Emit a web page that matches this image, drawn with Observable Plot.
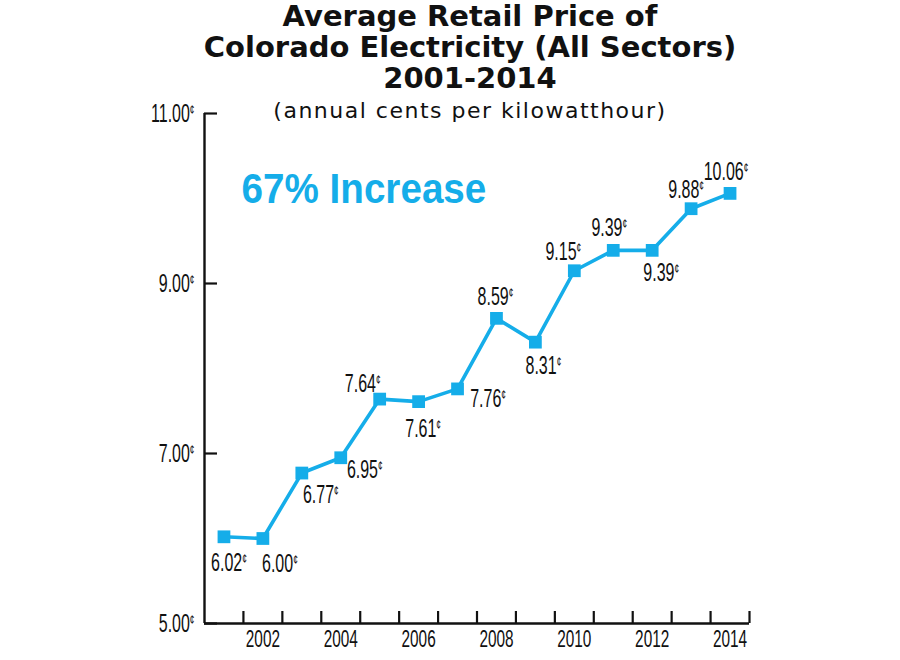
<!DOCTYPE html>
<html>
<head>
<meta charset="utf-8">
<script src="https://cdn.jsdelivr.net/npm/d3@7"></script>
<script src="https://cdn.jsdelivr.net/npm/@observablehq/plot@0.6"></script>
<style>
  html, body { margin: 0; padding: 0; background: #ffffff; }
  #wrap { position: relative; width: 900px; height: 660px; overflow: hidden; }
  .tl { position: absolute; left: 40px; width: 860px; text-align: center; color: #111;
        font-family: "DejaVu Sans", sans-serif; white-space: nowrap; }
  .t1 { font-weight: bold; font-size: 29px; line-height: 32px; }
  .sub { font-size: 22px; line-height: 32px; letter-spacing: 1.5px; }
  #chart { position: absolute; left: 0; top: 0; }
</style>
</head>
<body>
<div id="wrap">
  <div id="chart"></div>
  <div class="tl t1" style="top:0px">Average Retail Price of</div>
  <div class="tl t1" style="top:31px">Colorado Electricity (All Sectors)</div>
  <div class="tl t1" style="top:62px">2001-2014</div>
  <div class="tl sub" style="top:95px">(annual cents per kilowatthour)</div>
</div>
<script>
// ---- data ----
const years = [2001, 2002, 2003, 2004, 2005, 2006, 2007, 2008, 2009, 2010, 2011, 2012, 2013, 2014];
const prices = [6.02, 6.00, 6.77, 6.95, 7.64, 7.61, 7.76, 8.59, 8.31, 9.15, 9.39, 9.39, 9.88, 10.06];
const yTickValues = [5, 7, 9, 11];
const xTickLabels = [2002, 2004, 2006, 2008, 2010, 2012, 2014];
const annotation = "67% Increase";

// ---- layout (pixel offsets of each value label from its point) ----
const labelOffsets = [
  [5, 26], [17, 25], [19, 21.5], [24, 12], [-17, -15], [4.5, 27], [30.5, 10.5],
  [-1, -21], [8, 23.5], [-11, -19], [-4, -22], [9, 23], [-5, -19], [-4, -21]
];

const blue = "#15ade9";
const data = years.map((year, i) => ({year, price: prices[i]}));
const xDomain = [years[0] - 0.5, years[years.length - 1] + 0.5];
const yDomain = [yTickValues[0], yTickValues[yTickValues.length - 1]];
const bandEdges = years.map(y => y + 0.5);
const cent = v => v.toFixed(2) + "¢";

const labelMarks = data.map((d, i) => Plot.text([d], {
  x: "year", y: "price", text: dd => cent(dd.price),
  dx: labelOffsets[i][0], dy: labelOffsets[i][1],
  fontSize: 25, fill: "#111", textAnchor: "middle", lineAnchor: "middle"
}));

const chart = Plot.plot({
  width: 900,
  height: 660,
  marginTop: 113,
  marginBottom: 37,
  marginLeft: 204,
  marginRight: 151,
  style: {fontFamily: "'Liberation Sans', Arial, sans-serif", background: "transparent", color: "#111"},
  x: {type: "linear", domain: xDomain, label: null},
  y: {type: "linear", domain: yDomain, label: null},
  marks: [
    Plot.axisY({ticks: yTickValues, tickSize: -13, tickFormat: () => "", strokeWidth: 2.2, label: null}),
    Plot.axisY({ticks: yTickValues, tickSize: 0, tickPadding: 10, tickFormat: cent, fontSize: 25, fill: "#111", label: null}),
    Plot.axisX({ticks: bandEdges, tickSize: -12, tickFormat: () => "", strokeWidth: 2.2, label: null}),
    Plot.axisX({ticks: xTickLabels, tickSize: 0, tickPadding: 6, tickFormat: d => String(d), fontSize: 24, fill: "#111", label: null}),
    Plot.ruleX([xDomain[0]], {stroke: "#111", strokeWidth: 2.4}),
    Plot.ruleY([yDomain[0]], {stroke: "#111", strokeWidth: 2.4}),
    Plot.line(data, {x: "year", y: "price", stroke: blue, strokeWidth: 3.6}),
    Plot.dot(data, {x: "year", y: "price", symbol: "square", r: 7.2, fill: blue}),
    ...labelMarks,
    Plot.text([annotation], {frameAnchor: "top-left", dx: 37, dy: 76, text: d => d,
      fontSize: 42, fontWeight: "bold", fill: blue, textAnchor: "start", lineAnchor: "middle"})
  ]
});

// condense texts and make the cent sign a small superscript
d3.select(chart).selectAll("text").each(function () {
  const el = this;
  const txt = el.textContent;
  if (!txt) return;
  const tr = el.getAttribute("transform") || "";
  const s = txt === annotation ? 0.92 : 0.64;
  el.setAttribute("transform", tr + ` scale(${s},1)`);
  if (txt.endsWith("¢")) {
    el.textContent = txt.slice(0, -1);
    const t = document.createElementNS("http://www.w3.org/2000/svg", "tspan");
    t.setAttribute("font-size", "13");
    t.setAttribute("dy", "-8");
    t.textContent = "¢";
    el.appendChild(t);
  }
});

document.getElementById("chart").appendChild(chart);
</script>
</body>
</html>
